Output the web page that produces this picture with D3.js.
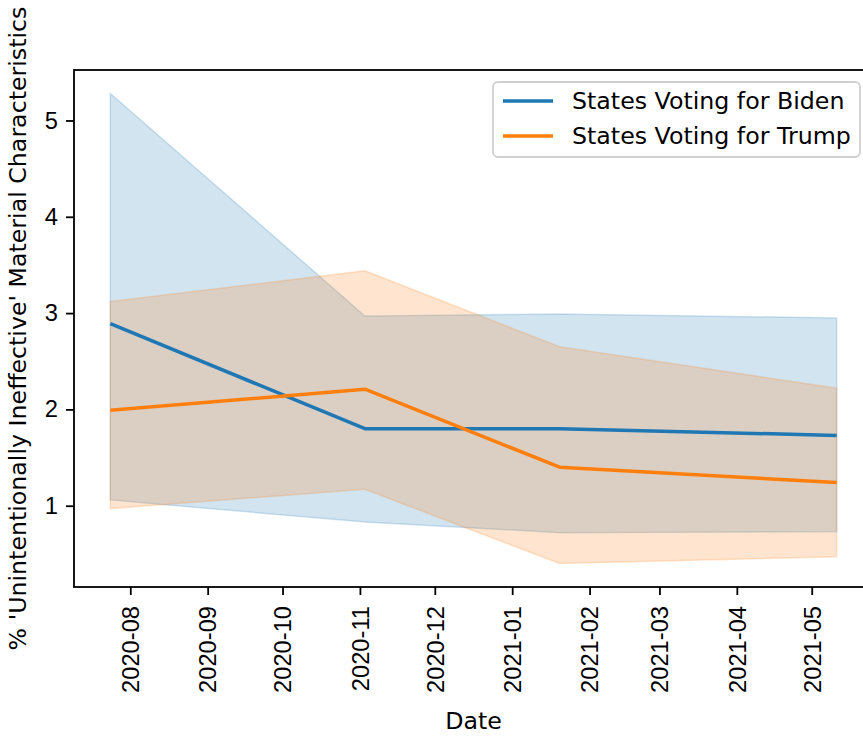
<!DOCTYPE html>
<html>
<head>
<meta charset="utf-8">
<script src="https://cdn.jsdelivr.net/npm/d3@7"></script>
<style>
  html, body { margin: 0; padding: 0; background: #fff; }
  svg { display: block; font-family: "DejaVu Sans", sans-serif; }
</style>
</head>
<body>
<svg id="chart" width="863" height="736"></svg>
<script>
// Survey dates (four waves)
const dates = ["2020-07-24", "2020-11-03", "2021-01-20", "2021-05-11"];

// States voting for Biden: mean and confidence band
const bidenMean  = [2.89, 1.80, 1.80, 1.73];
const bidenLower = [1.06, 0.83, 0.72, 0.73];
const bidenUpper = [5.28, 2.97, 2.99, 2.95];

// States voting for Trump: mean and confidence band
const trumpMean  = [1.99, 2.21, 1.40, 1.24];
const trumpLower = [0.97, 1.17, 0.40, 0.47];
const trumpUpper = [3.12, 3.44, 2.65, 2.22];

const yTicks = [1, 2, 3, 4, 5];
const seriesNames = ["States Voting for Biden", "States Voting for Trump"];
const seriesColors = ["#1f77b4", "#ff7f0e"];

const parse = d3.timeParse("%Y-%m-%d");
const xs = dates.map(parse);

const series = [
  { name: seriesNames[0], color: seriesColors[0], mean: bidenMean, lo: bidenLower, hi: bidenUpper },
  { name: seriesNames[1], color: seriesColors[1], mean: trumpMean, lo: trumpLower, hi: trumpUpper }
].map(s => ({ ...s, pts: xs.map((d, i) => ({ x: d, m: s.mean[i], lo: s.lo[i], hi: s.hi[i] })) }));

const svg = d3.select("#chart");
const FS = 23.7;

// Plot frame
const frame = { left: 74, right: 873, top: 70, bottom: 587 };

// Autoscale with 5% padding on both axes
const xMin = d3.min(xs), xMax = d3.max(xs);
const xPad = (xMax - xMin) * 0.05;
const x = d3.scaleTime()
  .domain([new Date(+xMin - xPad), new Date(+xMax + xPad)])
  .range([frame.left, frame.right]);

const allY = [].concat(bidenLower, bidenUpper, trumpLower, trumpUpper, bidenMean, trumpMean);
const yLo = d3.min(allY), yHi = d3.max(allY);
const yPad = (yHi - yLo) * 0.05;
const y = d3.scaleLinear().domain([yLo - yPad, yHi + yPad]).range([frame.bottom, frame.top]);

const area = d3.area().x(d => x(d.x)).y0(d => y(d.lo)).y1(d => y(d.hi));
const line = d3.line().x(d => x(d.x)).y(d => y(d.m));

// Confidence bands first, mean lines on top
const bands = svg.append("g");
const lines = svg.append("g");
series.forEach(s => {
  bands.append("path")
    .datum(s.pts)
    .attr("d", area)
    .attr("fill", s.color)
    .attr("fill-opacity", 0.2)
    .attr("stroke", s.color)
    .attr("stroke-opacity", 0.2)
    .attr("stroke-width", 1.5);
  lines.append("path")
    .datum(s.pts)
    .attr("d", line)
    .attr("fill", "none")
    .attr("stroke", s.color)
    .attr("stroke-width", 3.5)
    .attr("stroke-linejoin", "round");
});

// Axes
const xAxis = d3.axisBottom(x)
  .tickValues(d3.timeMonth.range(new Date(2020, 7, 1), new Date(2021, 5, 1)))
  .tickFormat(d3.timeFormat("%Y-%m"))
  .tickSize(8).tickPadding(8);

const gx = svg.append("g").attr("transform", `translate(0,${frame.bottom})`).call(xAxis);
gx.select(".domain").remove();
gx.selectAll(".tick line").attr("stroke", "#000").attr("stroke-width", 1.8);
gx.selectAll(".tick text")
  .attr("font-size", FS)
  .attr("fill", "#000")
  .attr("transform", "rotate(-90)")
  .attr("text-anchor", "end")
  .attr("x", -19)
  .attr("y", 0)
  .attr("dy", "0.35em");

const yAxis = d3.axisLeft(y).tickValues(yTicks).tickFormat(d3.format("d")).tickSize(8).tickPadding(8);
const gy = svg.append("g").attr("transform", `translate(${frame.left},0)`).call(yAxis);
gy.select(".domain").remove();
gy.selectAll(".tick line").attr("stroke", "#000").attr("stroke-width", 1.8);
gy.selectAll(".tick text").attr("font-size", FS).attr("fill", "#000");

// Frame spines
svg.append("rect")
  .attr("x", frame.left).attr("y", frame.top)
  .attr("width", frame.right - frame.left).attr("height", frame.bottom - frame.top)
  .attr("fill", "none").attr("stroke", "#000").attr("stroke-width", 1.8);

// Axis titles
svg.append("text")
  .attr("x", (frame.left + frame.right) / 2).attr("y", 729)
  .attr("text-anchor", "middle").attr("font-size", FS).attr("fill", "#000")
  .text("Date");

svg.append("text")
  .attr("transform", `translate(26,${(frame.top + frame.bottom) / 2}) rotate(-90)`)
  .attr("text-anchor", "middle").attr("font-size", FS).attr("fill", "#000")
  .text("% 'Unintentionally Ineffective' Material Characteristics");

// Legend
const lg = svg.append("g");
lg.append("rect")
  .attr("x", 493).attr("y", 82).attr("width", 367).attr("height", 75)
  .attr("rx", 5).attr("ry", 5)
  .attr("fill", "#fff").attr("fill-opacity", 0.8)
  .attr("stroke", "#d0d0d0").attr("stroke-width", 1.8);
series.forEach((s, i) => {
  const cy = 101 + i * 35;
  lg.append("line")
    .attr("x1", 503).attr("x2", 553).attr("y1", cy).attr("y2", cy)
    .attr("stroke", s.color).attr("stroke-width", 3.5);
  lg.append("text")
    .attr("x", 572).attr("y", cy).attr("dy", "0.35em")
    .attr("font-size", FS).attr("fill", "#000")
    .text(s.name);
});
</script>
</body>
</html>
